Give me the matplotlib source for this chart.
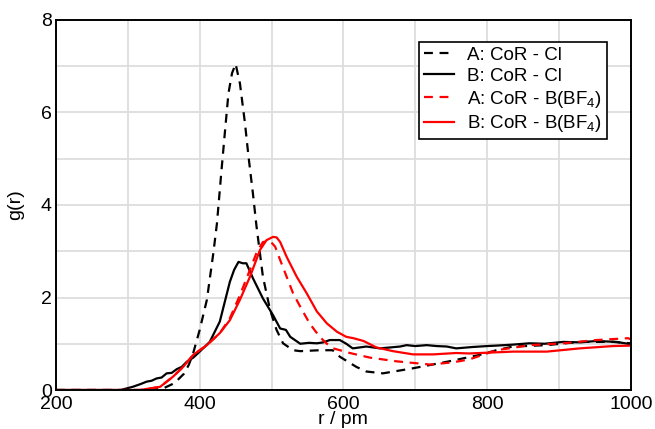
import matplotlib
matplotlib.use("Agg")
import matplotlib.pyplot as plt
from matplotlib.ticker import MultipleLocator

plt.rcParams["font.family"] = ["Liberation Sans", "DejaVu Sans"]
plt.rcParams["mathtext.fontset"] = "custom"
plt.rcParams["mathtext.rm"] = "Liberation Sans"
plt.rcParams["mathtext.it"] = "Liberation Sans"

# A: CoR - Cl (black dashed)
r_a_cl = [200, 330, 350, 365, 378, 385, 391, 400, 410, 419, 424, 430, 435, 440, 445, 450,
          456, 463, 468, 474, 479, 488, 498, 507, 516, 530, 540, 567, 585, 595, 618, 632,
          655, 697, 744, 790, 813, 836, 883, 929, 975, 1000]
g_a_cl = [0, 0, 0.04, 0.15, 0.35, 0.55, 0.8, 1.3, 1.95, 2.96, 3.6, 4.69, 5.56, 6.41, 6.85, 7.05,
          6.63, 5.77, 5.04, 4.26, 3.55, 2.45, 1.73, 1.3, 1.01, 0.86, 0.84, 0.86, 0.86, 0.72, 0.5, 0.4,
          0.36, 0.47, 0.61, 0.76, 0.86, 0.94, 0.97, 1.04, 1.04, 1.01]

# B: CoR - Cl (black solid)
r_b_cl = [200, 290, 307, 318, 326, 333, 340, 347, 354, 361, 368, 375, 382, 391, 400, 414, 428,
          442, 448, 454, 460, 465, 474, 488, 502, 512, 520, 526, 540, 552, 563, 572, 581, 595,
          604, 613, 632, 651, 665, 679, 688, 700, 716, 730, 744, 757, 780, 800, 813, 835, 859,
          880, 906, 930, 952, 980, 1000]
g_b_cl = [0, 0, 0.07, 0.13, 0.18, 0.2, 0.25, 0.27, 0.36, 0.37, 0.45, 0.5, 0.61, 0.7, 0.83, 1.04, 1.48,
          2.34, 2.6, 2.77, 2.74, 2.74, 2.42, 1.98, 1.62, 1.33, 1.3, 1.15, 1.0, 1.02, 1.01, 1.03, 1.08, 1.08,
          1.0, 0.9, 0.94, 0.9, 0.92, 0.94, 0.97, 0.95, 0.97, 0.95, 0.94, 0.9, 0.93, 0.95, 0.96, 0.98, 1.01,
          1.0, 1.04, 1.03, 1.06, 1.04, 0.99]

# A: CoR - B(BF4) (red dashed)
r_a_bf = [200, 320, 345, 363, 377, 391, 410, 428, 442, 456, 470, 480, 488, 498, 505, 512, 521,
          530, 540, 553, 567, 577, 586, 609, 637, 674, 721, 753, 775, 813, 860, 906, 952, 996, 1000]
g_a_bf = [0, 0, 0.07, 0.29, 0.5, 0.76, 0.97, 1.23, 1.55, 2.05, 2.6, 3.0, 3.2, 3.22, 3.1, 2.81, 2.45,
          2.09, 1.8, 1.44, 1.15, 1.0, 0.9, 0.8, 0.7, 0.62, 0.55, 0.6, 0.66, 0.86, 0.97, 1.01, 1.08, 1.12, 1.1]

# B: CoR - B(BF4) (red solid)
r_b_bf = [200, 317, 345, 363, 377, 391, 410, 428, 442, 456, 470, 484, 493, 502, 507, 512, 521,
          535, 549, 563, 577, 591, 604, 614, 628, 646, 669, 697, 725, 757, 775, 836, 883, 929, 975, 1000]
g_b_bf = [0, 0, 0.07, 0.29, 0.5, 0.76, 0.97, 1.23, 1.51, 1.95, 2.45, 3.03, 3.24, 3.31, 3.3, 3.2, 2.88,
          2.45, 2.09, 1.7, 1.44, 1.26, 1.15, 1.12, 1.06, 0.92, 0.84, 0.77, 0.77, 0.8, 0.79, 0.83, 0.83,
          0.9, 0.95, 0.96]

fig = plt.figure(figsize=(6.55, 4.29), dpi=100)
ax = fig.add_axes([0.0855, 0.0909, 0.8775, 0.8625])

dash = (0, (4, 3))
ax.plot(r_a_cl, g_a_cl, color="black", lw=1.6, linestyle=dash, label="A: CoR - Cl")
ax.plot(r_b_cl, g_b_cl, color="black", lw=1.6, label="B: CoR - Cl")
ax.plot(r_a_bf, g_a_bf, color="red", lw=1.6, linestyle=dash, label="A: CoR - B(BF$_4$)")
ax.plot(r_b_bf, g_b_bf, color="red", lw=1.6, label="B: CoR - B(BF$_4$)")

ax.set_xlim(200, 1000)
ax.set_ylim(0, 8)
ax.xaxis.set_major_locator(MultipleLocator(200))
ax.xaxis.set_minor_locator(MultipleLocator(100))
ax.yaxis.set_major_locator(MultipleLocator(2))
ax.yaxis.set_minor_locator(MultipleLocator(1))
ax.grid(which="both", color="#dddddd", lw=1.3)
ax.set_axisbelow(True)
ax.tick_params(which="both", length=0, labelsize=14)
ax.tick_params(axis="x", pad=4)
ax.tick_params(axis="y", pad=3)
for s in ax.spines.values():
    s.set_linewidth(1.4)

ax.set_xlabel("r / pm", fontsize=14, labelpad=-1)
ax.set_ylabel("g(r)", fontsize=14, labelpad=12)

leg = ax.legend(loc="upper right", bbox_to_anchor=(0.958, 0.94), fontsize=13.5,
                frameon=True, fancybox=False, edgecolor="black", framealpha=1,
                handlelength=1.6, labelspacing=0.2, borderpad=0.25, handletextpad=0.7,
                borderaxespad=0)
leg.get_frame().set_linewidth(1.2)

fig.savefig("out.png", dpi=100)
